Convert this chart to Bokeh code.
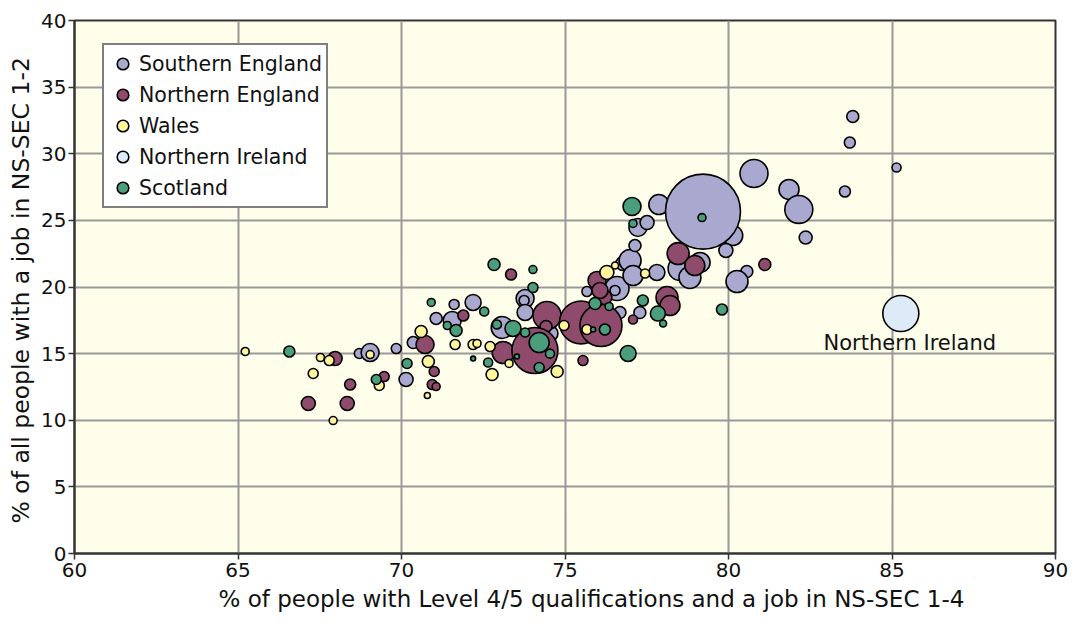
import math
from bokeh.plotting import figure
from bokeh.models import ColumnDataSource, Legend, LegendItem, FixedTicker, Range1d, Title
from bokeh.core.properties import value
from bokeh.embed import file_html
from bokeh.resources import INLINE

# --- data: x = % Level 4/5 & NS-SEC 1-4, y = % NS-SEC 1-2, pop = population (thousands)
south_x = [68.71, 69.04, 69.84, 70.14, 70.36, 71.06, 71.55, 71.61, 72.19, 73.08, 73.78, 73.75, 73.78,
           74.54, 75.67, 76.59, 76.68, 76.53, 76.77, 76.99, 77.14, 77.08, 77.81, 77.29, 77.23, 77.51,
           77.87, 78.52, 78.82, 79.13, 80.13, 79.92, 80.78, 81.85, 82.15, 82.36, 80.56, 80.26, 83.80,
           83.71, 85.14, 83.56, 79.22]
south_y = [15.01, 15.08, 15.38, 13.06, 15.83, 17.64, 17.49, 18.69, 18.84, 16.96, 19.14, 18.99, 18.09,
           16.51, 19.66, 19.89, 18.09, 19.74, 21.76, 21.99, 23.11, 20.86, 21.09, 18.09, 24.47, 24.84,
           26.19, 21.39, 20.71, 21.84, 23.86, 22.74, 28.52, 27.32, 25.82, 23.71, 21.16, 20.41, 32.80,
           30.84, 28.97, 27.17, 25.66]
south_pop = [133, 432, 133, 261, 192, 192, 432, 133, 341, 645, 432, 133, 341,
             341, 133, 768, 192, 133, 261, 645, 192, 533, 341, 192, 432, 261,
             533, 768, 645, 533, 533, 261, 1045, 533, 1045, 225, 192, 645, 192,
             161, 108, 161, 7500]

north_x = [67.15, 67.97, 68.43, 68.34, 69.47, 70.72, 71.00, 70.94, 71.06, 71.89, 73.35, 74.45, 74.42,
           73.11, 74.08, 75.49, 76.10, 75.98, 76.22, 76.07, 77.08, 75.55, 78.12, 78.21, 78.46, 78.97,
           81.11]
north_y = [11.26, 14.63, 12.68, 11.26, 13.28, 15.68, 13.66, 12.68, 12.53, 17.86, 20.94, 17.86, 17.04,
           15.08, 15.23, 17.34, 17.11, 20.49, 19.21, 19.74, 17.56, 14.48, 19.21, 18.61, 22.51, 21.61,
           21.69]
north_pop = [261, 261, 161, 261, 133, 432, 133, 133, 85, 161, 161, 1045, 192,
             645, 2821, 2465, 2352, 432, 261, 341, 108, 133, 645, 533, 645, 533,
             192]

wales_x = [65.22, 67.30, 67.52, 67.79, 67.91, 69.04, 69.32, 70.60, 70.82, 70.79, 71.64, 72.19, 72.31,
           72.71, 73.29, 72.77, 74.76, 74.97, 75.67, 76.28, 76.53, 77.45]
wales_y = [15.16, 13.51, 14.71, 14.48, 9.98, 14.93, 12.61, 16.66, 14.41, 11.86, 15.68, 15.68, 15.76,
           15.53, 14.26, 13.43, 13.66, 17.11, 16.81, 21.09, 21.61, 21.01]
wales_pop = [85, 133, 85, 133, 85, 85, 133, 192, 192, 48, 133, 133, 85,
             133, 85, 192, 192, 133, 133, 261, 65, 108]

ni_x = [85.27]
ni_y = [18.01]
ni_pop = [1728]

scot_x = [66.57, 69.23, 70.17, 70.91, 71.40, 71.67, 72.53, 72.19, 72.65, 72.83, 74.02, 74.02, 72.92,
          73.41, 73.78, 74.21, 74.54, 74.21, 73.53, 75.86, 76.22, 75.92, 76.35, 77.38, 77.84, 78.00,
          76.93, 77.05, 77.08, 79.19, 79.80]
scot_y = [15.16, 13.06, 14.26, 18.84, 17.11, 16.74, 18.16, 14.63, 14.33, 21.69, 21.31, 19.96, 17.19,
          16.89, 16.59, 15.83, 15.00, 13.96, 14.78, 16.81, 16.81, 18.76, 18.54, 18.99, 18.01, 17.26,
          15.01, 26.04, 24.77, 25.21, 18.31]
scot_pop = [161, 133, 133, 85, 85, 192, 108, 33, 108, 192, 85, 133, 108,
            341, 108, 533, 108, 133, 33, 33, 161, 192, 85, 161, 300, 65,
            341, 432, 85, 85, 161]

regions = ["Southern England", "Northern England", "Wales", "Northern Ireland", "Scotland"]
colors = ["#A9A8CF", "#8E4B6C", "#FFF59B", "#DDEAF7", "#4B9E7B"]
series = [(south_x, south_y, south_pop), (north_x, north_y, north_pop),
          (wales_x, wales_y, wales_pop), (ni_x, ni_y, ni_pop), (scot_x, scot_y, scot_pop)]

x_ticks = [60, 65, 70, 75, 80, 85, 90]
y_ticks = [0, 5, 10, 15, 20, 25, 30, 35, 40]
x_label = "% of people with Level 4/5 qualifications and a job in NS-SEC 1-4"
y_label = "% of all people with a job in NS-SEC 1-2"

FONT = "DejaVu Sans"

p = figure(width=1069, height=623, x_range=Range1d(60, 90), y_range=Range1d(0, 40),
           output_backend="svg", toolbar_location=None,
           min_border_left=74, min_border_right=14, min_border_top=20, min_border_bottom=70)
p.background_fill_color = "#FFFEEB"
p.border_fill_color = "white"
p.outline_line_color = "#333333"
p.outline_line_width = 2

p.xaxis.ticker = FixedTicker(ticks=x_ticks)
p.yaxis.ticker = FixedTicker(ticks=y_ticks)
p.grid.grid_line_color = "#999999"
p.grid.grid_line_width = 2

for ax in (p.xaxis, p.yaxis):
    ax.axis_line_color = "#333333"
    ax.axis_line_width = 2
    ax.major_tick_line_color = "#333333"
    ax.major_tick_line_width = 1.5
    ax.major_tick_out = 6
    ax.major_tick_in = 0
    ax.minor_tick_line_color = None
    ax.major_label_text_font = FONT
    ax.major_label_text_font_size = "20px"
    ax.major_label_text_color = "#111111"
p.xaxis.major_label_standoff = 3
p.yaxis.major_label_standoff = 2

xt = Title(text=x_label, align="left", offset=144, text_font=FONT, text_font_size="23px",
           text_font_style="normal", text_color="#111111", standoff=8)
yt = Title(text=y_label, align="left", offset=30, text_font=FONT, text_font_size="23.5px",
           text_font_style="normal", text_color="#111111", standoff=8)
p.add_layout(xt, "below")
p.add_layout(yt, "left")

items = []
for name, col, (xs, ys, pops) in zip(regions, colors, series):
    src = ColumnDataSource(dict(x=xs, y=ys, pop=pops,
                                size=[75 * math.sqrt(v / 7500.0) for v in pops]))
    r = p.scatter("x", "y", size="size", source=src, marker="circle",
                  fill_color=col, line_color="black", line_width=1.6)
    items.append(LegendItem(label=name, renderers=[r]))

ni_src = ColumnDataSource(dict(x=ni_x, y=ni_y, t=["Northern Ireland"]))
p.text("x", "y", text="t", source=ni_src, x_offset=9, y_offset=29,
       text_align="center", text_baseline="middle",
       text_font=value(FONT), text_font_size="21px", text_color="#111111")

legend = Legend(items=items, location=(28, 345), margin=0)
legend.border_line_color = "black"
legend.border_line_width = 2
legend.background_fill_color = "white"
legend.background_fill_alpha = 1
legend.label_text_font = FONT
legend.label_text_font_size = "20.5px"
legend.label_text_color = "#111111"
legend.glyph_width = 29
legend.glyph_height = 29
legend.label_height = 29
legend.spacing = 2
legend.padding = 4
legend.label_standoff = 2
p.add_layout(legend, "center")

open("out.html", "w").write(file_html(p, INLINE))
